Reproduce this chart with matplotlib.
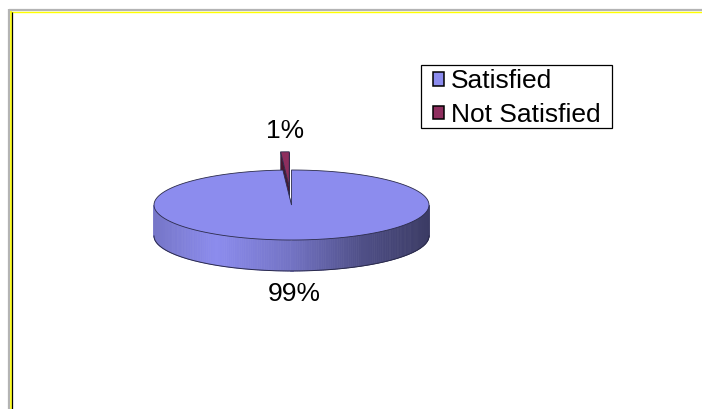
import numpy as np
import matplotlib
matplotlib.use('Agg')
import matplotlib.pyplot as plt
from matplotlib.patches import Polygon, Patch, Rectangle
from matplotlib.colors import to_rgb

# chart data
labels = ['Satisfied', 'Not Satisfied']
values = [99, 1]
top_colors = ['#8c8cee', '#8e2e5e']
side_colors = ['#8c8cee', '#5e1c3c']
explode = [0.0, 0.52]

plt.rcParams['font.family'] = ['Liberation Sans', 'DejaVu Sans']

W, H = 702, 409
fig = plt.figure(figsize=(W / 100, H / 100), dpi=100)
ax = fig.add_axes([0, 0, 1, 1])
ax.set_xlim(0, W)
ax.set_ylim(H, 0)
ax.axis('off')

# window frame (grey / yellow / black)
ax.plot([9, 9], [9, H], color='#b4b4b4', lw=1.6, solid_capstyle='butt')
ax.plot([9, W], [9.5, 9.5], color='#b4b4b4', lw=1.6, solid_capstyle='butt')
ax.plot([10.8, 10.8], [11, H], color='#ffff00', lw=1.2, solid_capstyle='butt')
ax.plot([10, W], [11.5, 11.5], color='#ffff00', lw=1.0, solid_capstyle='butt')
ax.plot([12, 12], [12, H], color='black', lw=0.9, solid_capstyle='butt')

# pie geometry (pixels)
cx, cy, rx, ry, depth = 291.5, 205, 137.5, 35, 31
edge = '#2a2a4a'


def pt(theta, ox=0.0, oy=0.0, dz=0.0):
    t = np.radians(theta)
    return cx + ox + rx * np.sin(t), cy + oy - ry * np.cos(t) + dz


def shade(u):
    return np.interp(u, [-1, -0.55, 0, 0.5, 1], [0.84, 1.0, 0.82, 0.57, 0.42])


fracs = np.array(values, dtype=float) / sum(values)
bounds = np.concatenate([[0], np.cumsum(fracs) * 360])

# draw back (exploded) slice first, then the main slice
for i in [1, 0]:
    a0, a1 = bounds[i], bounds[i + 1]
    mid = np.radians((a0 + a1) / 2)
    ox = explode[i] * rx * np.sin(mid)
    oy = -explode[i] * ry * np.cos(mid)
    c0 = (cx + ox, cy + oy)
    sc = np.array(to_rgb(side_colors[i]))

    # radial faces
    for a in (a0, a1):
        p = pt(a, ox, oy)
        quad = [c0, p, (p[0], p[1] + depth), (c0[0], c0[1] + depth)]
        ax.add_patch(Polygon(quad, closed=True, fc=sc * 0.8, ec=edge, lw=0.4))

    # outer side (front facing part only)
    lo, hi = max(a0, 90), min(a1, 270)
    if hi > lo:
        ts = np.linspace(lo, hi, int(hi - lo) + 2)
        for t0, t1 in zip(ts[:-1], ts[1:]):
            p0, p1 = pt(t0, ox, oy), pt(t1, ox, oy)
            u = np.sin(np.radians((t0 + t1) / 2))
            col = np.clip(sc * shade(u), 0, 1)
            quad = [p0, p1, (p1[0], p1[1] + depth), (p0[0], p0[1] + depth)]
            ax.add_patch(Polygon(quad, closed=True, fc=col, ec=col, lw=0.5))
        bot = [pt(t, ox, oy, depth) for t in ts]
        ax.plot([b[0] for b in bot], [b[1] for b in bot], color=edge, lw=0.7)

    # top face
    ts = np.linspace(a0, a1, max(int(a1 - a0) * 2, 4))
    face = [c0] + [pt(t, ox, oy) for t in ts]
    ax.add_patch(Polygon(face, closed=True, fc=top_colors[i], ec=edge, lw=0.6))

# percentage labels
ax.text(285, 131, '1%', ha='center', va='center', fontsize=19, color='black')
ax.text(294.5, 294, '99%', ha='center', va='center', fontsize=19, color='black')

# legend (frame drawn separately to get Excel-like padding)
ax.add_patch(Rectangle((421, 65), 191, 63, fill=False, ec='black', lw=0.9))
handles = [Patch(facecolor=top_colors[0], edgecolor='black', lw=1.1),
           Patch(facecolor=top_colors[1], edgecolor='black', lw=1.1)]
leg = ax.legend(handles, labels, loc='upper left',
                bbox_to_anchor=(433 / W, 1 - 69.5 / H), bbox_transform=ax.transAxes,
                fontsize=19, frameon=False,
                borderpad=0, handlelength=0.42, handleheight=0.42,
                handletextpad=0.26, labelspacing=0.36, borderaxespad=0)

fig.savefig('out.png', dpi=100)
